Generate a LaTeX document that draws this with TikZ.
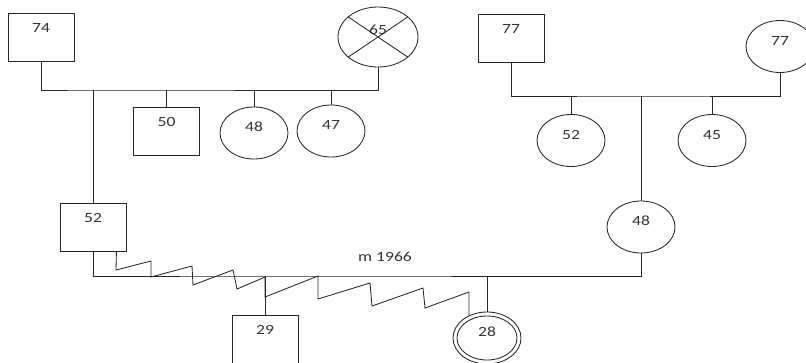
\documentclass[tikz,border=0pt]{standalone}
\usepackage{fontspec}
\newfontfamily\pedfont[FakeStretch=1.25]{Carlito}
\usetikzlibrary{shapes.geometric}

\begin{document}
\begin{tikzpicture}[
    x=0.025cm, y=-0.025cm, line width=0.6pt,
    male/.style={rectangle, draw=black!85, minimum width=1.65cm,
                 minimum height=1.2cm, inner sep=0pt, font=\pedfont,
                 text=black!80, text height=6.3pt, text depth=12.8pt},
    female/.style={ellipse, draw=black!85, minimum width=1.7cm,
                   minimum height=1.3cm, inner sep=0pt, font=\pedfont,
                   text=black!80, text height=6.3pt, text depth=7.8pt},
    rel/.style={draw=black!85},
  ]
  \useasboundingbox (0,0) rectangle (806,362);
  \clip (0,0) rectangle (806,362);

  % father's parents and siblings
  \node[male] (m74) at (41,37.5) {74};
  \node[female, minimum width=2cm, minimum height=1.5cm,
        text depth=10pt] (f65) at (378,37) {65};
  \draw[rel] (f65.34) -- (f65.214) (f65.146) -- (f65.326);
  \node[male] (m50) at (166.5,131) {50};
  \node[female] (f48) at (254,133) {48};
  \node[female] (f47) at (331,131) {47};

  % mother's parents and siblings
  \node[male] (m77) at (511,38.5) {77};
  \node[female] (f77) at (780,46.5) {77};
  \node[female] (f52) at (571,140.5) {52};
  \node[female] (f45) at (712,140.5) {45};

  % couple and children
  \node[male] (m52) at (93,227) {52};
  \node[female] (f48b) at (641,227) {48};
  \node[male] (m29) at (265,339) {29};
  \node[female] (f28) at (487,338) {};
  \node[female, minimum width=1.5cm, minimum height=1.1cm] (f28in) at (f28) {28};
  \node[font=\pedfont, text=black!80] (myear) at (385,257) {m 1966};

  \coordinate (sibL) at (93,90);
  \draw[rel] (m74.south) |- (sibL) -| (f65.south);
  \draw[rel] (sibL) -- (m52.north);
  \draw[rel] (m50.north) -- (m50.north |- sibL);
  \draw[rel] (f48.north) -- (f48.north |- sibL);
  \draw[rel] (f47.north) -- (f47.north |- sibL);

  \coordinate (sibR) at (641,96);
  \draw[rel] (m77.south) |- (sibR) -| (f77.south);
  \draw[rel] (sibR) -- (f48b.north);
  \draw[rel] (f52.north) -- (f52.north |- sibR);
  \draw[rel] (f45.north) -- (f45.north |- sibR);

  \coordinate (mar) at (265,276);
  \draw[rel] (m52.south) |- (mar) -| (f48b.south);
  \draw[rel] (mar) -- (m29.north);
  \draw[rel] (f28.north) -- (f28.north |- mar);

  % zigzag
  \draw[rel] (m52.south east) ++(-10,0) -- (116,270) -- (151,261)
    -- (151,277) -- (192,266) -- (193,285) -- (233,270) -- (237,289)
    -- (265,277) -- (265,297) -- (318,276) -- (318,299) -- (370,283)
    -- (372,306) -- (423,288) -- (425,308) -- (469,292) |- (f28.129);
\end{tikzpicture}
\end{document}
